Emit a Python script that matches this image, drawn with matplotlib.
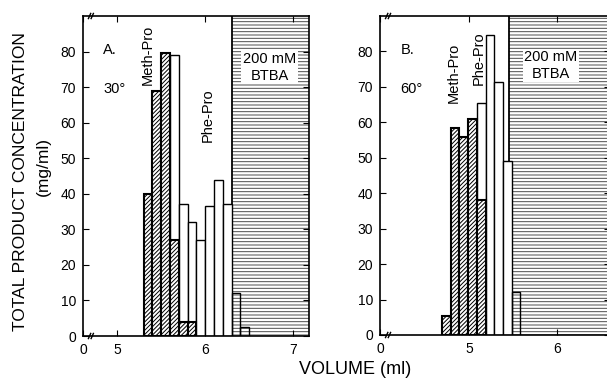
import matplotlib
matplotlib.use('Agg')
import matplotlib.pyplot as plt

plt.rcParams['font.family'] = ['Liberation Sans', 'DejaVu Sans']
plt.rcParams['hatch.linewidth'] = 0.7

# panel A, 30 deg (fractions 0.1 ml wide, left edges in ml)
a_meth_x = [5.3, 5.4, 5.5, 5.6, 5.7, 5.8]
a_meth = [40, 69, 79.5, 27, 4, 4]
a_phe_x = [5.6, 5.7, 5.8, 5.9, 6.0, 6.1, 6.2]
a_phe = [79, 37, 32, 27, 36.5, 44, 37]
a_tail_x = [6.3, 6.4]
a_tail = [12, 2.5]
a_btba_start = 6.3

# panel B, 60 deg
b_meth_x = [4.685, 4.785, 4.885, 4.985, 5.085]
b_meth = [5.5, 58.5, 56, 61, 38]
b_phe_x = [5.085, 5.185, 5.285, 5.385]
b_phe = [65.5, 84.5, 71.5, 49]
b_tail_x = [5.485]
b_tail = [12]
b_btba_start = 5.455

yticks = [0, 10, 20, 30, 40, 50, 60, 70, 80]
width = 0.1


def break_mark(ax, y):
    for dx in (0.0, 0.012):
        ax.plot([0.024 + dx, 0.034 + dx], [y - 0.008, y + 0.008],
                transform=ax.transAxes, color='black', lw=1.0, clip_on=False)


def panel(ax, xlim, xticks, xlabels, meth_x, meth, phe_x, phe, tail_x, tail,
          btba_start, letter, temp, meth_pos, phe_pos, btba_pos):
    ax.axvspan(btba_start, xlim[1] + 1, facecolor='white', edgecolor='0.3',
               hatch='-----', lw=0, zorder=0)
    ax.axvline(btba_start, color='black', lw=1.3, zorder=1)
    ax.bar(phe_x, phe, width=width, align='edge', color='white',
           edgecolor='black', lw=1.0, zorder=2)
    ax.bar(meth_x, meth, width=width, align='edge', color='white',
           edgecolor='black', hatch='////////', lw=1.5, zorder=3)
    ax.bar(tail_x, tail, width=width, align='edge', fill=False,
           edgecolor='black', lw=1.0, zorder=2)
    ax.set_xlim(*xlim)
    ax.set_ylim(0, 90)
    ax.set_xticks(xticks)
    ax.set_xticklabels(xlabels)
    ax.set_yticks(yticks)
    ax.tick_params(direction='in', length=4, labelsize=10, top=True, right=True,
                   pad=5)
    for s in ax.spines.values():
        s.set_linewidth(1.2)
    break_mark(ax, 0.0)
    break_mark(ax, 1.0)
    ax.text(0.09, 0.88, letter, transform=ax.transAxes, fontsize=10.5)
    ax.text(0.09, 0.76, temp, transform=ax.transAxes, fontsize=10.5)
    ax.text(meth_pos[0], meth_pos[1], 'Meth-Pro', rotation=90, fontsize=10.5,
            ha='center', va='center', zorder=5)
    ax.text(phe_pos[0], phe_pos[1], 'Phe-Pro', rotation=90, fontsize=10.5,
            ha='center', va='center', zorder=5)
    ax.text(btba_pos[0], btba_pos[1], '200 mM\nBTBA', fontsize=10.5,
            ha='center', va='center', linespacing=1.25, zorder=5,
            bbox=dict(facecolor='white', edgecolor='none', pad=1))


fig = plt.figure(figsize=(6.07, 3.78), dpi=100)
ax_a = fig.add_axes([83 / 607, 42 / 378, 226 / 607, 320 / 378])
ax_b = fig.add_axes([380 / 607, 43 / 378, 230 / 607, 319 / 378])

panel(ax_a, (4.61, 7.18), [4.61, 5, 6, 7], ['0', '5', '6', '7'],
      a_meth_x, a_meth, a_phe_x, a_phe, a_tail_x, a_tail, a_btba_start,
      'A.', '30°', (5.35, 79), (6.03, 62), (6.73, 75.5))
panel(ax_b, (3.977, 6.61), [3.977, 5, 6], ['0', '5', '6'],
      b_meth_x, b_meth, b_phe_x, b_phe, b_tail_x, b_tail, b_btba_start,
      'B.', '60°', (4.82, 74), (5.11, 78), (5.93, 76))

fig.text(0.034, 0.52, 'TOTAL PRODUCT CONCENTRATION', rotation=90, ha='center',
         va='center', fontsize=12.5)
fig.text(0.071, 0.56, '(mg/ml)', rotation=90, ha='center', va='center',
         fontsize=12.5)
fig.text(0.585, 0.022, 'VOLUME (ml)', ha='center', va='center', fontsize=13)

fig.savefig('out.png', dpi=100)
